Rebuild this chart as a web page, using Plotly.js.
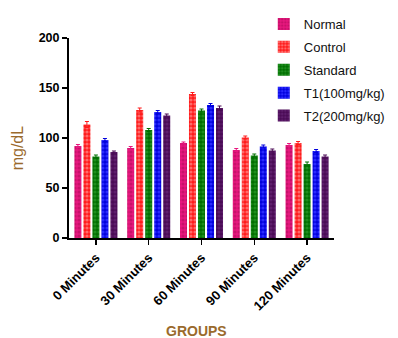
<!DOCTYPE html>
<html>
<head>
<meta charset="utf-8">
<script src="https://cdn.plot.ly/plotly-3.0.1.min.js"></script>
<style>html,body{margin:0;padding:0;background:#fff;}#chart{width:398px;height:338px;}</style>
</head>
<body>
<div id="chart"></div>
<script>
var categories = ["0 Minutes", "30 Minutes", "60 Minutes", "90 Minutes", "120 Minutes"];
var seriesNames = ["Normal", "Control", "Standard", "T1(100mg/kg)", "T2(200mg/kg)"];
var normal   = [92, 90, 95, 88, 93];
var control  = [113.5, 128, 144, 100.5, 95];
var standard = [81.5, 108, 127.5, 82.5, 74];
var t1       = [98, 126, 133, 91.5, 87];
var t2       = [86, 122.5, 130, 87.5, 81.5];
var normalErr   = [1.5, 1.5, 1, 1.5, 1.5];
var controlErr  = [3, 2, 1.5, 1.5, 1.5];
var standardErr = [1.5, 1.5, 1.5, 1.5, 2];
var t1Err       = [1.5, 1.5, 1.5, 1.5, 1.5];
var t2Err       = [1, 1.5, 2, 1.5, 1.5];
var yTicks = [0, 50, 100, 150, 200];

var values = [normal, control, standard, t1, t2];
var errs = [normalErr, controlErr, standardErr, t1Err, t2Err];
var colors = ["#e8177f", "#ff1a1a", "#006e00", "#0000dd", "#4a0a55"];
var fg = ["#c8106a", "#ff6a6a", "#1e8e1e", "#2a2aff", "#5e1e6c"];

var traces = values.map(function(v, i){
  return {
    type: "bar", name: seriesNames[i], x: categories, y: v, legendgroup: "g" + i,
    marker: {color: colors[i], line: {width: 0},
      pattern: {shape: ".", bgcolor: colors[i], fgcolor: fg[i], fgopacity: 1, size: 4, solidity: 0.5}},
    error_y: {type: "data", array: errs[i], visible: true, color: colors[i], thickness: 1, width: 2}
  };
});

var layout = {
  width: 398, height: 338,
  margin: {l: 69, r: 64, t: 38, b: 100, autoexpand: false},
  paper_bgcolor: "#fff", plot_bgcolor: "#fff",
  barmode: "group", bargap: 0.147, bargroupgap: 0.22,
  font: {family: "Liberation Sans, Arial, sans-serif", color: "#000"},
  showlegend: true,
  legend: {xref: "paper", yref: "paper", x: 0.735, y: 1.145, xanchor: "left", yanchor: "top",
    font: {size: 13, color: "#111"}, itemwidth: 30, traceorder: "grouped", tracegroupgap: 3,
    bgcolor: "rgba(0,0,0,0)"},
  xaxis: {type: "category", range: [-0.51, 4.51], showline: true, linecolor: "#000", linewidth: 2,
    ticks: "outside", ticklen: 5, tickwidth: 1.5, tickcolor: "#000", tickangle: -45,
    tickfont: {size: 13, color: "#000", weight: "bold"}, showgrid: false, zeroline: false, fixedrange: true},
  yaxis: {range: [0, 200], tickvals: yTicks, showline: true, linecolor: "#000", linewidth: 2,
    ticks: "outside", ticklen: 5, tickwidth: 1.5, tickcolor: "#000",
    tickfont: {size: 12.5, color: "#000", weight: "bold"}, showgrid: false, zeroline: false},
  annotations: [
    {text: "mg/dL", xref: "paper", yref: "paper", x: -0.195, y: 0.45, xanchor: "center", yanchor: "middle",
      textangle: -90, showarrow: false, font: {size: 16, color: "#9a6a2c"}},
    {text: "<b>GROUPS</b>", xref: "paper", yref: "paper", x: 0.48, y: -0.465, xanchor: "center", yanchor: "middle",
      showarrow: false, font: {size: 14, color: "#9a6a2c"}}
  ]
};

Plotly.newPlot("chart", traces, layout, {staticPlot: true, displayModeBar: false});
</script>
</body>
</html>
